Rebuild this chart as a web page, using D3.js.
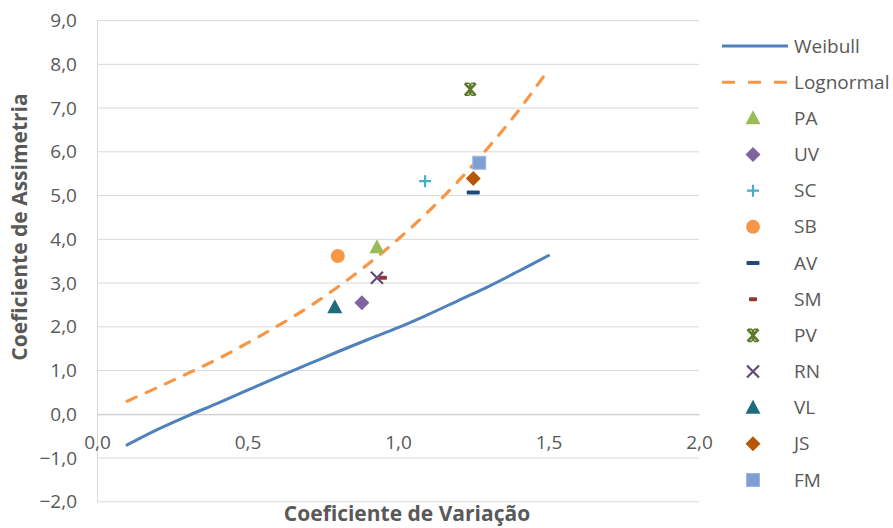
<!DOCTYPE html>
<html>
<head>
<meta charset="utf-8">
<script src="https://cdn.jsdelivr.net/npm/d3@7"></script>
<style>
  html, body { margin: 0; padding: 0; background: #fff; }
  svg text { font-family: "Open Sans", "Noto Sans", sans-serif; fill: #595959; }
</style>
</head>
<body>
<svg id="chart" width="893" height="528"></svg>
<script>
// Curves: skewness coefficient against coefficient of variation
const cvGrid = [0.1, 0.2, 0.3, 0.4, 0.5, 0.6, 0.7, 0.8, 0.9, 1.0, 1.1, 1.2, 1.3, 1.4, 1.5];
const weibullSkew = [-0.70, -0.35, -0.04, 0.25, 0.55, 0.85, 1.14, 1.43, 1.71, 1.98, 2.28, 2.60, 2.92, 3.27, 3.63];
const lognormalSkew = [0.30, 0.61, 0.93, 1.26, 1.63, 2.02, 2.44, 2.91, 3.43, 4.00, 4.63, 5.33, 6.10, 6.94, 7.88];

// Observed stations
const stationNames = ["PA", "UV", "SC", "SB", "AV", "SM", "PV", "RN", "VL", "JS", "FM"];
const stationCV    = [0.93, 0.88, 1.09, 0.80, 1.25, 0.95, 1.24, 0.93, 0.79, 1.25, 1.27];
const stationSkew  = [3.82, 2.55, 5.33, 3.62, 5.07, 3.12, 7.43, 3.12, 2.45, 5.39, 5.75];

// Axis ticks
const xTicks = [0.0, 0.5, 1.0, 1.5, 2.0];
const yTicks = [-2, -1, 0, 1, 2, 3, 4, 5, 6, 7, 8, 9];

const svg = d3.select("#chart");
const plot = { left: 97, right: 699, top: 20.6, bottom: 501.8 };
const x = d3.scaleLinear().domain([0, 2]).range([plot.left, plot.right]);
const y = d3.scaleLinear().domain([-2, 9]).range([plot.bottom, plot.top]);
const fmt = v => d3.format(".1f")(v).replace(".", ",");

// Horizontal gridlines
svg.append("g")
  .selectAll("line")
  .data(yTicks)
  .join("line")
  .attr("x1", plot.left).attr("x2", plot.right)
  .attr("y1", d => y(d)).attr("y2", d => y(d))
  .attr("stroke", "#d9d9d9").attr("stroke-width", 1);

// Vertical axis
const yAxis = svg.append("g")
  .attr("transform", `translate(${plot.left},0)`)
  .call(d3.axisLeft(y).tickValues(yTicks).tickFormat(fmt).tickSize(0).tickPadding(20));
yAxis.select(".domain").attr("stroke", "#d9d9d9");
yAxis.selectAll("text").style("font-size", "19px").attr("fill", "#595959");

// Horizontal axis crossing at zero, labels below
const xAxis = svg.append("g")
  .attr("transform", `translate(0,${y(0)})`)
  .call(d3.axisBottom(x).tickValues(xTicks).tickFormat(fmt).tickSize(0).tickPadding(21));
xAxis.select(".domain").attr("stroke", "#c8c8c8");
xAxis.selectAll("text").style("font-size", "19px").attr("fill", "#595959");

// Theoretical curves
const curve = d3.line().x(d => x(d[0])).y(d => y(d[1])).curve(d3.curveCatmullRom.alpha(0.5));
svg.append("path")
  .datum(cvGrid.map((c, i) => [c, weibullSkew[i]]))
  .attr("d", curve)
  .attr("fill", "none").attr("stroke", "#4F81BD").attr("stroke-width", 3)
  .attr("stroke-linecap", "round");
svg.append("path")
  .datum(cvGrid.map((c, i) => [c, lognormalSkew[i]]))
  .attr("d", curve)
  .attr("fill", "none").attr("stroke", "#F79646").attr("stroke-width", 3.2)
  .attr("stroke-dasharray", "10,11").attr("stroke-linecap", "round");

// Marker styles for each station
const markerStyle = {
  PA: { shape: "triangle", color: "#9BBB59" },
  UV: { shape: "diamond",  color: "#8064A2" },
  SC: { shape: "plus",     color: "#4BACC6" },
  SB: { shape: "circle",   color: "#F79646" },
  AV: { shape: "dash",     color: "#1F497D", w: 13 },
  SM: { shape: "dash",     color: "#943634", w: 8 },
  PV: { shape: "star",     color: "#5E7A2E" },
  RN: { shape: "cross",    color: "#604A7B" },
  VL: { shape: "triangle", color: "#1F6B7E" },
  JS: { shape: "diamond",  color: "#B65708" },
  FM: { shape: "square",   color: "#7F9ED4" }
};

function drawMarker(g, name) {
  const s = markerStyle[name];
  switch (s.shape) {
    case "triangle":
      g.append("path").attr("d", "M0,-8 L7.5,6 L-7.5,6 Z").attr("fill", s.color);
      break;
    case "diamond":
      g.append("path").attr("d", "M0,-7.5 L7.5,0 L0,7.5 L-7.5,0 Z").attr("fill", s.color);
      break;
    case "circle":
      g.append("circle").attr("r", 7).attr("fill", s.color);
      break;
    case "square":
      g.append("rect").attr("x", -6.5).attr("y", -6.5).attr("width", 13).attr("height", 13)
        .attr("fill", s.color).attr("stroke", "#9DB7E2").attr("stroke-width", 1);
      break;
    case "plus":
      g.append("path").attr("d", "M-6,0 H6 M0,-6 V6").attr("stroke", s.color).attr("stroke-width", 2.2);
      break;
    case "cross":
      g.append("path").attr("d", "M-6,-6 L6,6 M-6,6 L6,-6").attr("stroke", s.color).attr("stroke-width", 2.2);
      break;
    case "star":
      g.append("path").attr("d", "M-5.5,-6 L5.5,6 M-5.5,6 L5.5,-6 M0,-6 V6")
        .attr("stroke", s.color).attr("stroke-width", 2.6);
      g.append("path").attr("d", "M-5,-6 H-1 M1,-6 H5 M-5,6 H-1 M1,6 H5")
        .attr("stroke", s.color).attr("stroke-width", 1.6);
      break;
    case "dash":
      g.append("rect").attr("x", -s.w / 2).attr("y", -2).attr("width", s.w).attr("height", 4)
        .attr("rx", 1).attr("fill", s.color);
      break;
  }
}

// Station points
stationNames.forEach((name, i) => {
  const g = svg.append("g").attr("transform", `translate(${x(stationCV[i])},${y(stationSkew[i])})`);
  drawMarker(g, name);
});

// Legend
const legendNames = ["Weibull", "Lognormal"].concat(stationNames);
const legend = svg.append("g");
const rowY = d3.scaleLinear().domain([0, legendNames.length - 1]).range([46, 480]);
legendNames.forEach((name, i) => {
  const ry = rowY(i);
  if (name === "Weibull") {
    legend.append("line").attr("x1", 722).attr("x2", 788).attr("y1", ry).attr("y2", ry)
      .attr("stroke", "#4F81BD").attr("stroke-width", 3);
  } else if (name === "Lognormal") {
    legend.append("line").attr("x1", 722).attr("x2", 788).attr("y1", ry).attr("y2", ry)
      .attr("stroke", "#F79646").attr("stroke-width", 3).attr("stroke-dasharray", "13,13");
  } else {
    drawMarker(legend.append("g").attr("transform", `translate(753,${ry})`), name);
  }
  legend.append("text").attr("x", 794).attr("y", ry).attr("dy", "0.35em")
    .style("font-size", "19px").text(name);
});

// Axis titles
svg.append("text")
  .attr("x", (plot.left + plot.right) / 2 + 9).attr("y", 521)
  .attr("text-anchor", "middle")
  .style("font-size", "21px").style("font-weight", "bold")
  .text("Coeficiente de Variação");
svg.append("text")
  .attr("transform", "translate(27,227) rotate(-90)")
  .attr("text-anchor", "middle")
  .style("font-size", "21px").style("font-weight", "bold")
  .text("Coeficiente de Assimetria");
</script>
</body>
</html>
